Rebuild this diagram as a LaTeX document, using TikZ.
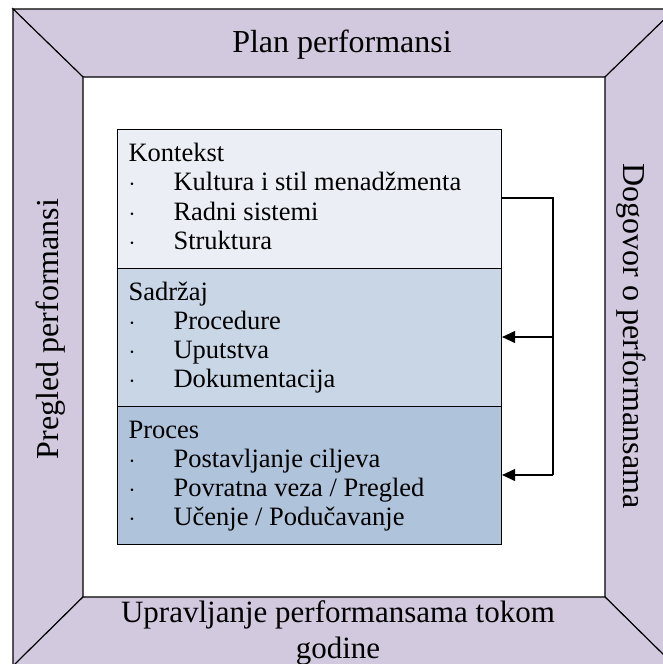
\documentclass[tikz,border=0pt]{standalone}
\usepackage{fontspec}
\setmainfont{Liberation Serif}
\usetikzlibrary{arrows.meta}
\definecolor{framefill}{RGB}{210,201,223}
\definecolor{ctxfill}{RGB}{235,238,244}
\definecolor{sadfill}{RGB}{201,214,230}
\definecolor{procfill}{RGB}{175,195,219}
\newcommand{\bul}{\makebox[45pt][l]{$\cdot$}}
\begin{document}
\begin{tikzpicture}[x=1pt, y=-1pt, line width=1.1pt, >={Triangle[length=13pt,width=12pt]},
  band/.style={fill=framefill, draw=black},
  layer/.style={draw, minimum width=384pt, anchor=north west, inner sep=0pt},
  bandtext/.style={font=\fontsize{32}{39}\selectfont, align=center, inner sep=0pt, anchor=base},
  boxtext/.style={font=\fontsize{26.5}{29.3}\selectfont, align=left, anchor=north west, inner sep=0pt}]
\useasboundingbox (0,0) rectangle (662,664);
% okvir
\filldraw[band] (13,9) -- (675,9) -- (605,77) -- (83,77) -- cycle;
\filldraw[band] (13,9) -- (83,77) -- (83,597) -- (13,666) -- cycle;
\filldraw[band] (675,9) -- (675,666) -- (605,597) -- (605,77) -- cycle;
\filldraw[band] (13,666) -- (83,597) -- (605,597) -- (675,666) -- cycle;
\node[bandtext] (plan) at (342,52) {Plan performansi};
\node[bandtext, rotate=90] (pregled) at (58,329) {Pregled performansi};
\node[bandtext, rotate=-90] (dogovor) at (623,336) {Dogovor o performansama};
\node[bandtext, anchor=north, font=\fontsize{31}{36}\selectfont] (upravljanje) at (338,597) {\strut Upravljanje performansama tokom\\godine};
% slojevi
\node[layer, fill=ctxfill, minimum height=139pt] (kontekstbox) at (117,129) {};
\node[layer, fill=sadfill, minimum height=138pt] (sadrzajbox) at (117,268) {};
\node[layer, fill=procfill, minimum height=138pt] (procesbox) at (117,406) {};
\node[boxtext] (kontekst) at (128,140.5) {\strut Kontekst\\\bul Kultura i stil menadžmenta\\\bul Radni sistemi\\\bul Struktura};
\node[boxtext] (sadrzaj) at (128,279) {\strut Sadržaj\\\bul Procedure\\\bul Uputstva\\\bul Dokumentacija};
\node[boxtext] (proces) at (128,417) {\strut Proces\\\bul Postavljanje ciljeva\\\bul Povratna veza / Pregled\\\bul Učenje / Podučavanje};
% povratne veze
\coordinate (k1) at (kontekstbox.north east |- 0,198);
\coordinate (k2) at (553,198);
\coordinate (s1) at (553,337);
\coordinate (p1) at (553,475);
\draw (k1) -- (k2) -- (p1) edge[->] (procesbox.east |- p1);
\draw[->] (s1) -- (sadrzajbox.east |- s1);
\end{tikzpicture}
\end{document}
